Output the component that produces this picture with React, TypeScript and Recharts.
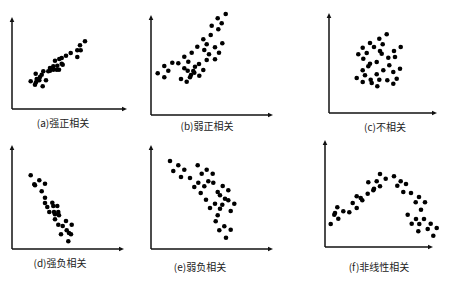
import { ScatterChart, Scatter, XAxis, YAxis, ReferenceLine } from "recharts";

// each point is [x, y] measured from the axis origin
const strongPositive = [
  [73, 67.7], [68, 63.7], [65.3, 58.7], [68.7, 58.7], [58.7, 56], [54, 53.3],
  [49.7, 51], [47.3, 50], [43, 48.3], [49.7, 45.3], [50.7, 44.3], [45.3, 43.3],
  [41.3, 42.7], [38, 41], [41.3, 39.3], [38, 38.3], [44.7, 39.3], [47, 39.3],
  [36.3, 37.7], [31.3, 37.7], [29.7, 34.3], [23.7, 35.3], [28, 32], [24.7, 30],
  [18.7, 27.7], [24, 26.7], [27.3, 28.7], [34, 28.7], [30.7, 22.7], [23, 24.3],
  [65.3, 52],
];

const weakPositive = [
  [74.7, 101], [66.7, 96.7], [60.7, 89.3], [70.7, 91.7], [67.3, 85.7], [59.7, 80],
  [52.3, 75.7], [55.7, 70.7], [71.3, 71.7], [46.3, 68.3], [64, 67.7], [53.3, 65],
  [40.7, 62.3], [68, 62.3], [58, 60.7], [55.7, 55], [64, 55.7], [33.3, 58.3],
  [37.3, 53.3], [27.3, 51.7], [21.3, 52.3], [13.3, 49], [17.3, 44.3], [6.7, 41.7],
  [13.3, 37.7], [33.3, 46.7], [36.7, 44.3], [44, 48.3], [48, 51], [42.3, 44],
  [52.3, 45], [40, 40], [43.3, 42.3], [39, 37.7], [30, 36], [35.7, 33.3], [48.3, 39.3],
];

const uncorrelated = [
  [57.7, 78.7], [50.3, 74.3], [41, 70], [45, 66], [53.7, 68.7], [33.7, 65.3],
  [51, 62], [37.7, 60], [29.3, 58.7], [71.7, 66], [65, 62], [52.7, 59.3],
  [34.3, 54.3], [47.7, 51], [59.3, 55.3], [66, 56], [41, 49.3], [39.3, 46.7],
  [71, 44.3], [54.3, 42.7], [33.7, 42.7], [64.3, 41], [47.7, 38.7], [27.7, 35],
  [36, 37.7], [41.7, 33.3], [50.3, 33.3], [58.3, 32.7], [67.7, 34.3], [33.7, 31],
  [42.7, 30], [48.3, 26.7], [64.3, 29.3], [60.3, 47.7],
];

const strongNegative = [
  [18.7, 73.7], [27.3, 68.7], [22.3, 64.7], [23, 63.7], [33, 65.3], [29.7, 57.7],
  [33, 51.3], [33, 46], [35.3, 42], [40.3, 46.3], [41.3, 43], [45.3, 43],
  [37.3, 37], [42, 37], [46.3, 37], [43, 34.7], [47, 33.7], [43, 29.7],
  [54, 28], [59.7, 24.3], [46.3, 24.3], [50.7, 23], [54.7, 18.7], [57, 16],
  [59, 14.7], [49, 14.7], [56.3, 7.7],
];

const weakNegative = [
  [19, 88], [27.3, 83.7], [22.3, 78], [33.3, 79.3], [30, 72], [39, 71],
  [46.7, 83.7], [55.7, 79.3], [50.7, 75.3], [61.7, 75.3], [47.3, 66.3], [57.3, 67.7],
  [62.3, 66.3], [43.3, 62], [53.3, 62.7], [71.7, 63], [77.3, 58.7], [66.7, 57],
  [69, 53.7], [49.7, 56], [74, 50.3], [77.3, 48.7], [55, 49.3], [83.3, 45.3],
  [64, 45.3], [71.3, 44.3], [69, 40.3], [59, 41], [79.7, 38], [66.7, 33.7],
  [64.7, 27.7], [73.3, 22.7], [79.7, 19.3], [68.3, 18.7], [75, 11.3],
];

const nonLinear = [
  [5.7, 23], [9.3, 32.3], [10, 34], [12.3, 39.7], [13.3, 28.3], [18.3, 35.7],
  [24.3, 34.7], [27.7, 44], [31.7, 39], [31.7, 50.7], [35.7, 49], [37.3, 46.7],
  [42.7, 53.3], [43.3, 64.7], [48.3, 56.7], [49, 58.3], [51.7, 65.7], [55, 73],
  [55, 60.7], [60.7, 68.3], [69, 70.7], [72.3, 61.3], [75.7, 65.7], [78.3, 55],
  [81, 63], [86, 54], [90.7, 44.7], [94, 50], [100, 44.7], [96, 37.3],
  [82.7, 32.3], [86.7, 23.3], [91, 28], [99, 28], [93.3, 15.7], [94.3, 23],
  [102.7, 18], [105.7, 23.3], [108.3, 11.3], [111.7, 19],
];

const captions = ["(a)强正相关", "(b)弱正相关", "(c)不相关", "(d)强负相关", "(e)弱负相关", "(f)非线性相关"];

const panels = [
  { points: strongPositive, ox: 12, oy: 109, ax: 115, ay: 92, cx: 63, cy: 123 },
  { points: weakPositive, ox: 151, oy: 115, ax: 122, ay: 100, cx: 207, cy: 126 },
  { points: uncorrelated, ox: 329, oy: 113, ax: 108, ay: 100, cx: 385, cy: 127 },
  { points: strongNegative, ox: 12, oy: 249, ax: 112, ay: 104, cx: 60, cy: 263 },
  { points: weakNegative, ox: 151, oy: 249, ax: 122, ay: 104, cx: 200, cy: 267 },
  { points: nonLinear, ox: 325, oy: 247, ax: 108, ay: 107, cx: 379, cy: 267 },
];

const PAD = 10;

function Arrow(props: any) {
  const { x1, y1, x2, y2 } = props;
  const dx = x2 - x1;
  const dy = y2 - y1;
  const len = Math.sqrt(dx * dx + dy * dy) || 1;
  const ux = dx / len;
  const uy = dy / len;
  const head = 5;
  const half = 2.3;
  const bx = x2 - ux * head;
  const by = y2 - uy * head;
  return (
    <g>
      <line x1={x1} y1={y1} x2={bx} y2={by} stroke="#111" strokeWidth={1.5} />
      <polygon
        points={`${x2},${y2} ${bx - uy * half},${by + ux * half} ${bx + uy * half},${by - ux * half}`}
        fill="#111"
      />
    </g>
  );
}

function Dot(props: any) {
  return <circle cx={props.cx} cy={props.cy} r={2.3} fill="#000" />;
}

function Panel({ points, ox, oy, ax, ay }: any) {
  const w = ax + 8;
  const h = ay + 5;
  const data = points.map(([x, y]: number[]) => ({ x, y }));
  return (
    <div style={{ position: "absolute", left: ox - PAD, top: oy - h - PAD }}>
      <ScatterChart
        width={w + PAD * 2}
        height={h + PAD * 2}
        margin={{ top: PAD, right: PAD, bottom: PAD, left: PAD }}
      >
        <XAxis type="number" dataKey="x" domain={[0, w]} hide />
        <YAxis type="number" dataKey="y" domain={[0, h]} hide />
        <ReferenceLine segment={[{ x: 0, y: 0 }, { x: ax, y: 0 }]} shape={Arrow} ifOverflow="visible" />
        <ReferenceLine segment={[{ x: 0, y: 0 }, { x: 0, y: ay }]} shape={Arrow} ifOverflow="visible" />
        <Scatter data={data} shape={Dot} isAnimationActive={false} />
      </ScatterChart>
    </div>
  );
}

export default function App() {
  return (
    <div
      style={{
        position: "absolute",
        left: 0,
        top: 0,
        width: 450,
        height: 283,
        background: "#fff",
        overflow: "hidden",
        fontFamily: '"Noto Sans CJK SC", "Noto Sans", sans-serif',
      }}
    >
      {panels.map((p, i) => (
        <div key={i}>
          <Panel {...p} />
          <div
            style={{
              position: "absolute",
              left: p.cx - 50,
              top: p.cy - 7,
              width: 100,
              textAlign: "center",
              fontSize: 10,
              lineHeight: "14px",
              color: "#222",
              whiteSpace: "nowrap",
            }}
          >
            {captions[i]}
          </div>
        </div>
      ))}
    </div>
  );
}
